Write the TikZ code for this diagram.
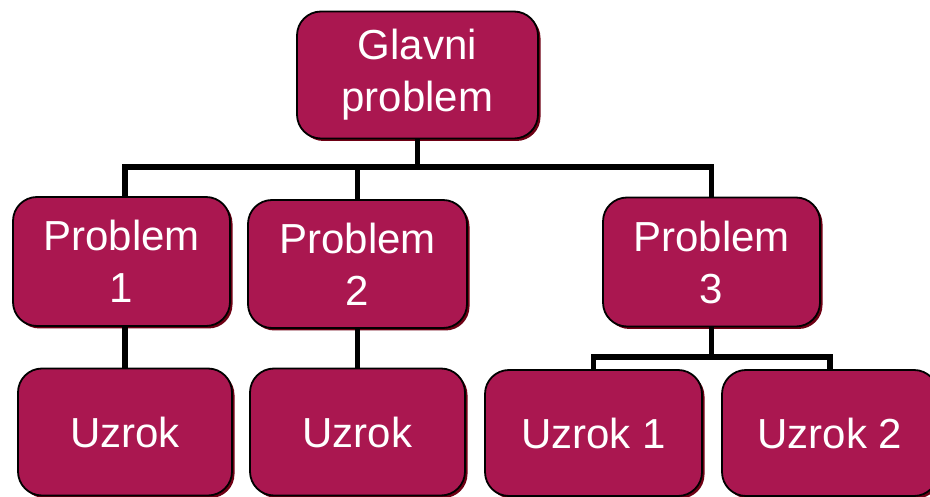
\documentclass[tikz,border=0pt]{standalone}
\usepackage{fontspec}
\setmainfont{Liberation Sans}
\usetikzlibrary{shadows}
\definecolor{boxfill}{RGB}{170,23,80}
\definecolor{boxshadow}{RGB}{110,0,20}
\begin{document}
\begin{tikzpicture}[x=1pt,y=-1pt,
  box/.style={draw=black, line width=1.8pt, fill=boxfill, rounded corners=24pt,
    text=white, align=center, inner sep=0pt,
    font=\fontsize{42}{52}\selectfont,
    drop shadow={shadow xshift=2.5pt, shadow yshift=-2.5pt, fill=boxshadow, opacity=1}},
  conn/.style={draw=black, line width=5.5pt}]
\useasboundingbox (0,0) rectangle (930,497);
\node[box, minimum width=241pt, minimum height=127pt] (main) at (417.5,75) {Glavni\\problem};
\node[box, minimum width=217pt, minimum height=129pt] (p1) at (121.5,261.5) {Problem\\1};
\node[box, minimum width=219pt, minimum height=128pt] (p2) at (357.5,264) {Problem\\2};
\node[box, minimum width=217pt, minimum height=129pt] (p3) at (711.5,262) {Problem\\3};
\node[box, minimum width=214pt, minimum height=127pt] (u1) at (125,432) {Uzrok};
\node[box, minimum width=215pt, minimum height=127pt] (u2) at (357.5,432) {Uzrok};
\node[box, minimum width=217pt, minimum height=126pt] (u31) at (593.5,433) {Uzrok 1};
\node[box, minimum width=216pt, minimum height=126pt] (u32) at (830,433) {Uzrok 2};
\coordinate (bus) at (0,167);
\coordinate (subbus) at (0,357);
\draw[conn] (main.south) -- (main.south |- bus);
\draw[conn] (u1.north |- p1.north) |- (p3.north |- bus) -- (p3.north);
\draw[conn] (p2.north) -- (p2.north |- bus);
\draw[conn] (u1.north |- p1.south) -- (u1.north);
\draw[conn] (p2.south) -- (u2.north);
\draw[conn] (p3.south) -- (p3.south |- subbus);
\draw[conn] (u31.north) |- (u32.north |- subbus) -- (u32.north);
\end{tikzpicture}
\end{document}
